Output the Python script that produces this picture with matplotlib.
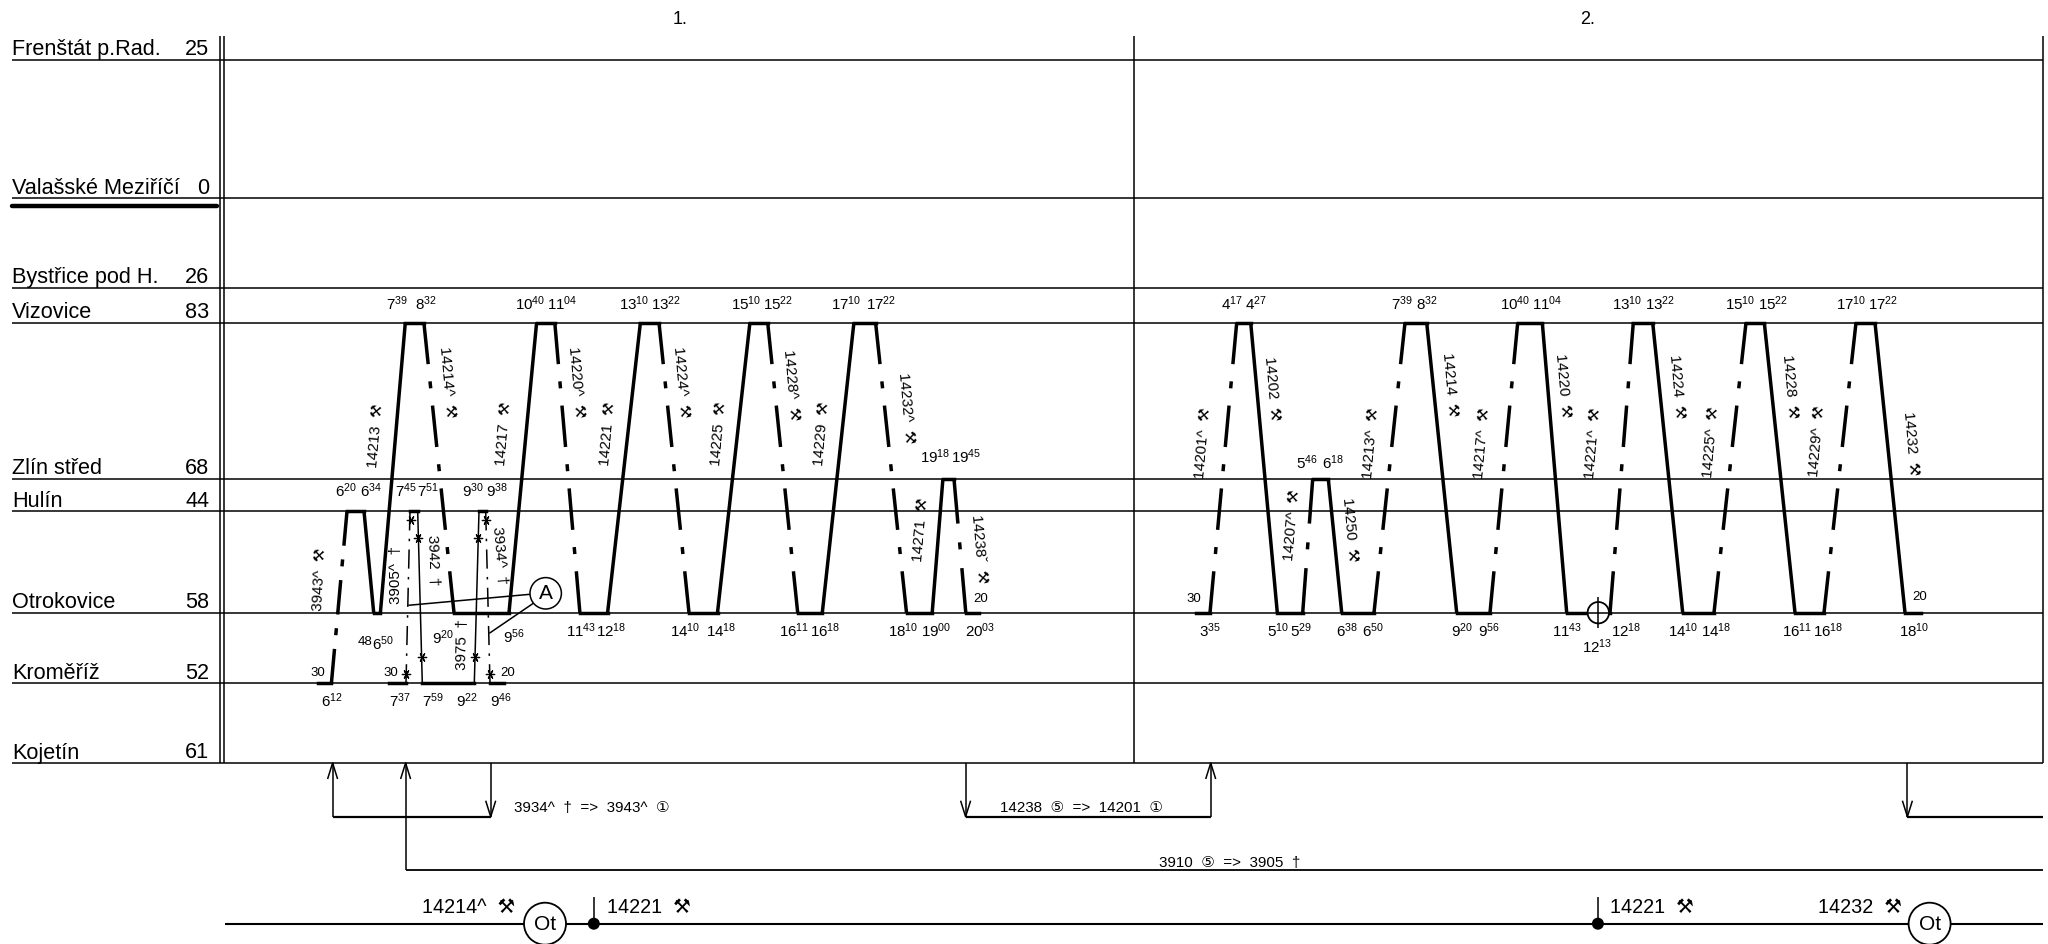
import math
import matplotlib
matplotlib.use("Agg")
import matplotlib.pyplot as plt
from matplotlib.patches import Circle

plt.rcParams['font.family'] = ['Liberation Sans', 'DejaVu Sans']
plt.rcParams['mathtext.fontset'] = 'custom'
plt.rcParams['mathtext.rm'] = 'Liberation Sans'
plt.rcParams['lines.scale_dashes'] = False

HAM = "\u2692"
DAG = "\u2020"

# ---- stations ----
STATION_NAMES = ["Frenštát p.Rad.", "Valašské Meziříčí", "Bystřice pod H.", "Vizovice",
                 "Zlín střed", "Hulín", "Otrokovice", "Kroměříž", "Kojetín"]
STATION_KM = [25, 0, 26, 83, 68, 44, 58, 52, 61]
STATION_Y = [59.5, 198, 287.5, 322.7, 479, 511.3, 612.7, 683.3, 763]
V, Z, H, O, K = 3, 4, 5, 6, 7

# ---- vehicle circulations: diagram position, station, then the style of each run ----
DAY1_X = [317.5, 331.4, 347, 364, 373.7, 380.4, 405.3, 423.9, 454, 509, 536.6, 554.8, 579.9, 607.6,
          640.4, 659, 689, 717.5, 749.9, 767.7, 797.7, 822.3, 853.9, 875.6, 906.5, 932.2, 942.9, 954,
          965.8, 978.5]
DAY1_ST = [K, K, H, H, O, O, V, V, O, O, V, V, O, O,
           V, V, O, O, V, V, O, O, V, V, O, O, Z, Z,
           O, O]
DAY1_RUNS = ["dd", "s", "s", "dd", "s", "dd", "s", "dd", "s", "dd", "s", "dd", "s", "dd"]

LOCAL_X = [389.3, 406, 410, 417.7, 422.3, 474.3, 479, 485.7, 490, 504]
LOCAL_ST = [K, K, H, H, K, K, H, H, K, K]
LOCAL_RUNS = ["dd", "s", "s", "dd"]

DAY2_X = [1196, 1210, 1236.7, 1250.7, 1277.3, 1302.7, 1312.7, 1328.3, 1341.7, 1374, 1405, 1426.7,
          1456.7, 1490, 1517.7, 1542.3, 1566.7, 1610, 1633.3, 1652.7, 1682.7, 1714, 1746, 1764.3,
          1795, 1824, 1856, 1875, 1905, 1920.7]
DAY2_ST = [O, O, V, V, O, O, Z, Z, O, O, V, V,
           O, O, V, V, O, O, V, V, O, O, V, V,
           O, O, V, V, O, O]
DAY2_RUNS = ["dd", "s", "dd", "s", "dd", "s", "dd", "s", "dd", "s", "dd", "s", "dd", "s"]

# ---- train numbers ----
TRAIN_LABELS = [f"14213  {HAM}", f"14214^  {HAM}", f"14217  {HAM}", f"14220^  {HAM}", f"14221  {HAM}",
                f"14224^  {HAM}", f"14225  {HAM}", f"14228^  {HAM}", f"14229  {HAM}", f"14232^  {HAM}",
                f"14271  {HAM}", f"14238ˇ  {HAM}", f"3943^  {HAM}", f"3905^  {DAG}", f"3942  {DAG}",
                f"3934^  {DAG}", f"3975  {DAG}",
                f"14201^  {HAM}", f"14202  {HAM}", f"14207^  {HAM}", f"14250  {HAM}", f"14213^  {HAM}",
                f"14214  {HAM}", f"14217^  {HAM}", f"14220  {HAM}", f"14221^  {HAM}", f"14224  {HAM}",
                f"14225^  {HAM}", f"14228  {HAM}", f"14229^  {HAM}", f"14232  {HAM}"]
TRAIN_LABEL_X = [375.6, 446.8, 504, 576, 607.6, 681, 718.7, 790.6, 822, 906.5, 921, 978.5, 320, 396, 432.7,
                 500, 462, 1203, 1271.7, 1292.3, 1350, 1370.7, 1449.3, 1481.7, 1562.7, 1593.3, 1676.7,
                 1710.7, 1790, 1817.3, 1910.7]
TRAIN_LABEL_Y = [435.7, 382.5, 434, 382, 434, 382, 434, 385, 434, 408, 530, 549.3, 579, 575.3, 560, 555.7,
                 645, 443.3, 388.3, 525, 530, 443, 385, 443, 386, 443, 386.7, 441.7, 387, 441, 444]
TRAIN_LABEL_ROT = [85, -85, 85, -85, 85, -85, 85, -85, 85, -85, 85, -85, 87, 90, -88, -85, 89,
                   85, -85, 85, -85, 85, -85, 85, -85, 85, -85, 85, -85, 85, -85]

# ---- times ----
TIMES_TOP = ["7:39", "8:32", "10:40", "11:04", "13:10", "13:22", "15:10", "15:22", "17:10", "17:22",
             "4:17", "4:27", "7:39", "8:32", "10:40", "11:04", "13:10", "13:22", "15:10", "15:22",
             "17:10", "17:22"]
TIMES_TOP_X = [396.6, 426, 530.6, 562.3, 634.4, 666, 746, 777.6, 846.4, 880.8,
               1231.7, 1256, 1402.3, 1427.3, 1515, 1546.7, 1626.7, 1660, 1740, 1772.7, 1850.7, 1883.3]
TIMES_BELOW = ["11:43", "12:18", "14:10", "14:18", "16:11", "16:18", "18:10", "19:00", "20:03",
               "3:35", "5:10", "5:29", "6:38", "6:50", "9:20", "9:56", "11:43", "12:18", "14:10",
               "14:18", "16:11", "16:18", "18:10"]
TIMES_BELOW_X = [581, 611.5, 685, 721.4, 794.6, 825.4, 903.3, 936, 980.4,
                 1210, 1277.7, 1301.3, 1346.7, 1373.3, 1461.7, 1489.3, 1567.3, 1626, 1683.3,
                 1716, 1796.7, 1827.7, 1914.3]
TIMES_OTHER = ["6:20", "6:34", "7:45", "7:51", "9:30", "9:38", "19:18", "19:45", "5:46", "6:18",
               "6:50", "9:20", "9:56", "6:12", "7:37", "7:59", "9:22", "9:46", "12:13"]
TIMES_OTHER_X = [346, 371, 406, 428.3, 472.7, 496.7, 935, 966.6, 1307.3, 1333.3,
                 382.7, 442.7, 514, 331.7, 399.7, 432.7, 467, 500.7, 1596.7]
TIMES_OTHER_Y = [496.7, 496.7, 496.7, 496.7, 496.7, 496.7, 462.7, 462.7, 469.3, 469.3,
                 650, 644, 643, 706.7, 706.7, 706.7, 706.7, 706.7, 653.3]
SECONDS = ["30", "30", "20", "20", "48", "30", "20"]
SECONDS_X = [318, 391, 507.3, 981, 365, 1194, 1920]
SECONDS_Y = [676, 676, 676, 601.7, 645, 601.7, 600]

# ---- local-train crossings ----
CROSS_X = [410.7, 418, 422, 406, 474.7, 478.3, 485.7, 490]
CROSS_Y = [520, 538.3, 656.7, 674, 656.7, 538.3, 520, 674]

# ---- through-connection brackets below the diagram ----
BRACKET_LABELS = [f"3934^  {DAG}  =>  3943^  \u2460", "14238  \u2464  =>  14201  \u2460",
                  f"3910  \u2464  =>  3905  {DAG}"]

FS = 10.9
NAME_FS = 15.6
THIN, THICK = 1.1, 2.5
fig = plt.figure(figsize=(20.48, 9.44), dpi=100, facecolor="white")
ax = fig.add_axes([0, 0, 1, 1])
ax.set_xlim(0, 2048)
ax.set_ylim(944, 0)
ax.axis("off")
LEFT, RIGHT, FRAME_TOP, FRAME_BOTTOM = 12, 2043, 36, 763


def line(xs, ys, lw=THIN, **kw):
    ax.plot(xs, ys, color="black", lw=lw, solid_capstyle=kw.pop("cap", "butt"), **kw)


def sup(t):
    h, m = t.split(":")
    return rf"$\mathregular{{{h}^{{{m}}}}}$"


def chain(xs, sts, runs, lw, unit, dot):
    r = iter(runs)
    for i in range(len(xs) - 1):
        x0, x1, y0, y1 = xs[i], xs[i + 1], STATION_Y[sts[i]], STATION_Y[sts[i + 1]]
        if sts[i] == sts[i + 1]:
            line([x0, x1], [y0, y1], lw=THICK, zorder=4, cap="projecting")
            continue
        style = next(r)
        if style == "s":
            line([x0, x1], [y0, y1], lw=lw, zorder=4)
        else:
            span = abs(y1 - y0)
            n = max(2, round((span / unit + 1) / 2))
            ln = math.hypot(x1 - x0, y1 - y0)
            d = ln / (2 * n - 1)
            gap = (d - dot) / 2
            pts = 72 / 100
            ax.plot([x0, x1], [y0, y1], color="black", lw=lw, zorder=4,
                    linestyle=(0, (d * pts, gap * pts, dot * pts, gap * pts)), dash_capstyle="butt")


def arrow(x, y0, y1):
    line([x, x], [y0, y1], lw=THIN)
    s = 1 if y1 > y0 else -1
    line([x - 5, x, x + 5], [y1 - s * 16, y1, y1 - s * 16], lw=THIN)


# frame and station lines
for name, km, y in zip(STATION_NAMES, STATION_KM, STATION_Y):
    line([LEFT, RIGHT], [y, y], lw=THIN, zorder=2)
    ax.text(LEFT, y - 4.5, name, fontsize=NAME_FS, ha="left", va="baseline")
    ax.text(209, y - 4.5, str(km), fontsize=NAME_FS, ha="right", va="baseline")
line([LEFT, 217], [206, 206], lw=3.2, cap="round", zorder=2)
for x in [219.5, 224, 1134, RIGHT]:
    line([x, x], [FRAME_TOP, FRAME_BOTTOM], lw=THIN, zorder=2)
ax.text(680, 24, "1.", fontsize=13, ha="center", va="baseline")
ax.text(1588, 24, "2.", fontsize=13, ha="center", va="baseline")

# trains
chain(DAY1_X, DAY1_ST, DAY1_RUNS, THICK, 40, 7)
chain(DAY2_X, DAY2_ST, DAY2_RUNS, THICK, 40, 7)
chain(LOCAL_X, LOCAL_ST, LOCAL_RUNS, THIN, 19, 2.5)
ax.scatter(CROSS_X, CROSS_Y, marker=(6, 2, 90), s=36, color="black", linewidths=0.9, zorder=5)

for t, x, y, r in zip(TRAIN_LABELS, TRAIN_LABEL_X, TRAIN_LABEL_Y, TRAIN_LABEL_ROT):
    ax.text(x, y, t, fontsize=FS, rotation=r, rotation_mode="anchor", ha="center", va="center", zorder=6)

# times
for t, x in zip(TIMES_TOP, TIMES_TOP_X):
    ax.text(x, 310, sup(t), fontsize=FS, ha="center", va="baseline")
for t, x in zip(TIMES_BELOW, TIMES_BELOW_X):
    ax.text(x, 637, sup(t), fontsize=FS, ha="center", va="baseline")
for t, x, y in zip(TIMES_OTHER, TIMES_OTHER_X, TIMES_OTHER_Y):
    ax.text(x, y, sup(t), fontsize=FS, ha="center", va="baseline")
for t, x, y in zip(SECONDS, SECONDS_X, SECONDS_Y):
    ax.text(x, y, t, fontsize=9.5, ha="center", va="baseline")

# note A
ax.add_patch(Circle((545.7, 593.3), 15.7, fc="white", ec="black", lw=THIN, zorder=7))
ax.text(545.7, 593.6, "A", fontsize=15, ha="center", va="center", zorder=8)
line([408.3, 530], [605.3, 594.3], lw=THIN, zorder=3)
line([489.3, 533.3], [633.3, 603.3], lw=THIN, zorder=3)

# occupation mark on day 2
ax.add_patch(Circle((1598.3, 612.7), 10.7, fc="white", ec="black", lw=THIN + 0.2, zorder=7))
line([1598.3, 1598.3], [596.7, 628.3], lw=THIN, zorder=8)
line([1586, 1611], [612.7, 612.7], lw=THIN, zorder=8)

# brackets
Y1, Y2 = 816.7, 870
arrow(332.6, Y1, FRAME_BOTTOM)
arrow(490.7, FRAME_BOTTOM, Y1)
line([332.6, 490.7], [Y1, Y1], lw=1.6)
arrow(965.6, FRAME_BOTTOM, Y1)
arrow(1210.7, Y1, FRAME_BOTTOM)
line([965.6, 1210.7], [Y1, Y1], lw=1.6)
arrow(1907.4, FRAME_BOTTOM, Y1)
line([1907.4, RIGHT], [Y1, Y1], lw=1.6)
arrow(405.6, Y2, FRAME_BOTTOM)
line([405.6, RIGHT], [Y2, Y2], lw=1.3)
ax.text(513.5, 812, BRACKET_LABELS[0], fontsize=FS, ha="left", va="baseline")
ax.text(1000.4, 812, BRACKET_LABELS[1], fontsize=FS, ha="left", va="baseline")
ax.text(1159, 866.5, BRACKET_LABELS[2], fontsize=FS, ha="left", va="baseline")

# bottom strip
BY = 923.7
line([224.8, RIGHT], [BY, BY], lw=1.5, zorder=2)
for x in [545, 1929.6]:
    ax.add_patch(Circle((x, BY), 21, fc="white", ec="black", lw=THIN + 0.2, zorder=5))
    ax.text(x, BY + 0.5, "Ot", fontsize=15, ha="center", va="center", zorder=6)
for x in [593.8, 1597.9]:
    ax.add_patch(Circle((x, BY), 6, fc="black", ec="black", lw=0, zorder=5))
    line([x, x], [896.7, BY], lw=THIN, zorder=5)
for t, x in [(f"14214^  {HAM}", 422), (f"14221  {HAM}", 607), (f"14221  {HAM}", 1610), (f"14232  {HAM}", 1818)]:
    ax.text(x, 913, t, fontsize=14.2, ha="left", va="baseline")

fig.savefig("out.png", dpi=100, facecolor="white")
